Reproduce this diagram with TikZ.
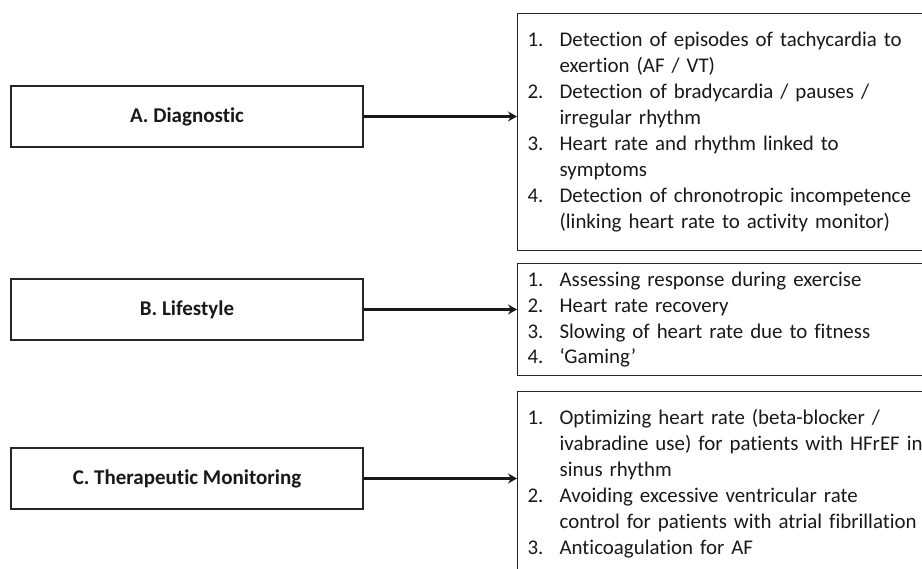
\documentclass[tikz,border=0pt]{standalone}
\usepackage{fontspec}
\setmainfont{Carlito}[Ligatures=NoCommon]
\usetikzlibrary{arrows.meta}
\tikzset{
  leftbox/.style={draw=black!85, line width=1.2pt, minimum width=352pt, minimum height=61pt,
    inner sep=0pt, font=\fontsize{21}{25}\selectfont\bfseries, text=black!90},
  listbox/.style={draw=black!85, line width=1.2pt, minimum width=430pt, anchor=north west,
    align=left, inner xsep=10pt, inner ysep=0pt, text width=410pt,
    font=\fontsize{20.9}{25.9}\selectfont, text=black!90},
  conn/.style={line width=2.2pt, draw=black!90, -{Stealth[length=9pt,width=10pt,inset=3pt]}}
}
\newcommand{\itm}[1]{\makebox[32pt][l]{#1}}
\newcommand{\ind}{\hspace*{32pt}}
\begin{document}
\begin{tikzpicture}[x=1pt,y=-1pt]
\useasboundingbox (0,0) rectangle (922,569);
\clip (0,0) rectangle (922,569);
\fill[white] (0,0) rectangle (922,569);

\node[leftbox] (A) at (187,116.5) {A. Diagnostic};
\node[leftbox] (B) at (187,309.5) {B. Lifestyle};
\node[leftbox] (C) at (187,478.5) {C. Therapeutic Monitoring};

\node[listbox, minimum height=237pt] (RA) at (517,13) {%
\itm{1.}Detection of episodes of tachycardia to\\
\ind exertion (AF / VT)\\
\itm{2.}Detection of bradycardia / pauses /\\
\ind irregular rhythm\\
\itm{3.}Heart rate and rhythm linked to\\
\ind symptoms\\
\itm{4.}Detection of chronotropic incompetence\\
\ind (linking heart rate to activity monitor)};

\node[listbox, minimum height=112pt] (RB) at (517,263) {%
\itm{1.}Assessing response during exercise\\
\itm{2.}Heart rate recovery\\
\itm{3.}Slowing of heart rate due to fitness\\
\itm{4.}`Gaming'};

\node[listbox, minimum height=184pt] (RC) at (517,391) {%
\itm{1.}Optimizing heart rate (beta-blocker /\\
\ind ivabradine use) for patients with HFrEF in\\
\ind sinus rhythm\\
\itm{2.}Avoiding excessive ventricular rate\\
\ind control for patients with atrial fibrillation\\
\itm{3.}Anticoagulation for AF};

\draw[conn] (A.east) -- (A.east -| RA.west);
\draw[conn] (B.east) -- (B.east -| RB.west);
\draw[conn] (C.east) -- (C.east -| RC.west);
\end{tikzpicture}
\end{document}
